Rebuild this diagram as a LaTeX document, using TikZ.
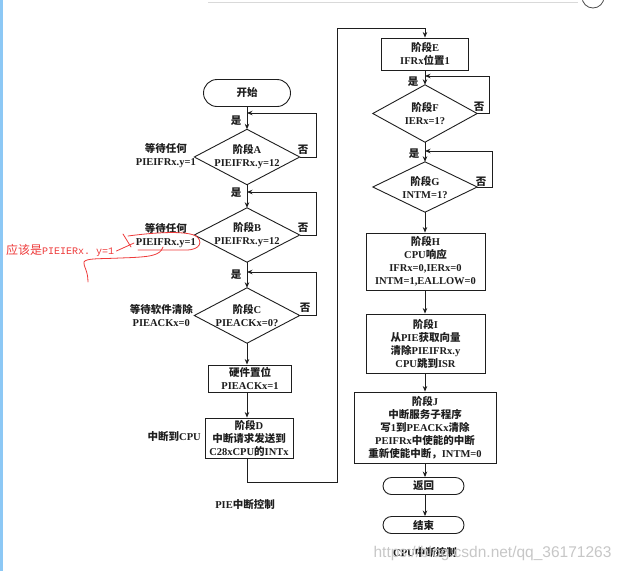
\documentclass[tikz,border=0pt]{standalone}
\usepackage{fontspec}
\setmainfont{Liberation Serif}
\setmonofont{Liberation Mono}
\setsansfont{Liberation Sans}
\newfontfamily\cjk{Noto Sans CJK SC}
\newcommand\zh[1]{{\cjk #1}}
\usetikzlibrary{arrows.meta,calc}
\definecolor{ink}{RGB}{30,30,30}
\definecolor{pen}{RGB}{238,58,58}
\definecolor{edge}{RGB}{140,200,245}
\begin{document}
\begin{tikzpicture}[x=1pt,y=-1pt,
  txt/.style={font=\fontsize{10.5}{13}\selectfont\bfseries, text=ink, align=center, inner sep=0pt},
  boxn/.style={txt, draw=ink, line width=0.9pt, rectangle},
  term/.style={boxn, rounded corners=8.5pt},
  dia/.style={txt},
  ln/.style={line width=0.9pt, draw=ink},
  arr/.style={ln, -{Stealth[length=5.5pt,width=4.5pt]}},
  redline/.style={draw=pen, line width=0.8pt, line cap=round, line join=round},
]
\useasboundingbox (0,0) rectangle (623,571);
\fill[white] (0,0) rectangle (623,571);
\fill[edge] (0,0) rectangle (2.5,571);
\draw[black!15, line width=0.6pt] (208,2) -- (578,2);
\draw[black!70, line width=0.8pt] (593,-3) circle (11);

% ---------- left column (PIE) ----------
\node[term, rounded corners=13.5pt, minimum width=87pt, minimum height=27pt] (start) at (247,93) {\zh{开始}};
\node[dia, minimum width=105pt, minimum height=55pt] (A) at (247,157) {\zh{阶段}A\\PIEIFRx.y=12};
\node[dia, minimum width=105pt, minimum height=54pt] (B) at (247,235) {\zh{阶段}B\\PIEIFRx.y=12};
\node[dia, minimum width=105pt, minimum height=55pt] (C) at (247,315.5) {\zh{阶段}C\\PIEACKx=0?};
\foreach \d in {A,B,C}{\draw[ln] (\d.north) -- (\d.east) -- (\d.south) -- (\d.west) -- cycle;}
\node[boxn, minimum width=83pt, minimum height=27pt] (hw) at (250,378.5) {\zh{硬件置位}\\PIEACKx=1};
\node[boxn, minimum width=88pt, minimum height=40pt] (D) at (249,438) {\zh{阶段}D\\\zh{中断请求发送到}\\C28xCPU\zh{的}INTx};

\node[txt, anchor=east] (la) at (196,156) {\zh{等待任何}\\PIEIFRx.y=1};
\node[txt, anchor=east] (lb) at (196,236) {\zh{等待任何}\\PIEIFRx.y=1};
\node[txt, anchor=east] (lc) at (193,315) {\zh{等待软件清除}\\PIEACKx=0};
\node[txt, anchor=east] (lcpu) at (201,437) {\zh{中断到}CPU};
\node[txt] (pie) at (245,505) {PIE\zh{中断控制}};

\coordinate (jA) at (247,113);
\coordinate (jB) at (247,192);
\coordinate (jC) at (247,272);
\coordinate (rA) at (316,113);
\coordinate (rB) at (316,192);
\coordinate (rC) at (316,272);
\draw[arr] (start.south) -- (A.north);
\draw[arr] (A.south) -- (B.north);
\draw[arr] (B.south) -- (C.north);
\draw[arr] (C.south) -- (C.south |- hw.north);
\draw[arr] (C.south |- hw.south) -- (C.south |- D.north);
\draw[arr] (A.east) -| (rA) -- (jA);
\draw[arr] (B.east) -| (rB) -- (jB);
\draw[arr] (C.east) -| (rC) -- (jC);
\node[txt] (yA) at (236,121) {\zh{是}};
\node[txt] (yB) at (236,193) {\zh{是}};
\node[txt] (yC) at (236,275) {\zh{是}};
\node[txt] (nA) at (303,150) {\zh{否}};
\node[txt] (nB) at (303,228) {\zh{否}};
\node[txt] (nC) at (305,308) {\zh{否}};

% ---------- right column (CPU) ----------
\node[boxn, minimum width=87pt, minimum height=32pt] (E) at (425,54) {\zh{阶段}E\\IFRx\zh{位置}1};
\node[dia, minimum width=104pt, minimum height=57pt] (F) at (425,113.5) {\zh{阶段}F\\IERx=1?};
\node[dia, minimum width=104pt, minimum height=50pt] (G) at (425,187) {\zh{阶段}G\\INTM=1?};
\foreach \d in {F,G}{\draw[ln] (\d.north) -- (\d.east) -- (\d.south) -- (\d.west) -- cycle;}
\node[boxn, minimum width=119pt, minimum height=57pt] (H) at (425.5,261.5) {\zh{阶段}H\\CPU\zh{响应}\\IFRx=0,IERx=0\\INTM=1,EALLOW=0};
\node[boxn, minimum width=119pt, minimum height=59pt] (I) at (425.5,343.5) {\zh{阶段}I\\\zh{从}PIE\zh{获取向量}\\\zh{清除}PIEIFRx.y\\CPU\zh{跳到}ISR};
\node[boxn, minimum width=142pt, minimum height=71pt] (J) at (425,427.5) {\zh{阶段}J\\\zh{中断服务子程序}\\\zh{写}1\zh{到}PEACKx\zh{清除}\\PEIFRx\zh{中使能的中断}\\\zh{重新使能中断，}INTM=0};
\node[term, minimum width=81pt, minimum height=17pt] (ret) at (423.5,486) {\zh{返回}};
\node[term, minimum width=81pt, minimum height=17pt] (fin) at (423.5,525) {\zh{结束}};
\node[txt] (cpu) at (425,553) {CPU\zh{中断控制}};

\coordinate (jF) at (425,76);
\coordinate (jG) at (425,151);
\coordinate (rF) at (489,76);
\coordinate (rG) at (492,151);
\coordinate (b1) at (337,482);
\coordinate (t1) at (337,28);
\draw[arr] (C.south |- D.south) |- (b1) -- (t1) -| (E.north);
\draw[arr] (E.south) -- (F.north);
\draw[arr] (F.south) -- (G.north);
\draw[arr] (G.south) -- (G.south |- H.north);
\draw[arr] (G.south |- H.south) -- (G.south |- I.north);
\draw[arr] (G.south |- I.south) -- (J.north);
\draw[arr] (J.south) -- (J.south |- ret.north);
\draw[arr] (J.south |- ret.south) -- (J.south |- fin.north);
\draw[arr] (F.east) -| (rF) -- (jF);
\draw[arr] (G.east) -| (rG) -- (jG);
\node[txt] (yF) at (413,82) {\zh{是}};
\node[txt] (yG) at (414,154) {\zh{是}};
\node[txt] (nF) at (479,107) {\zh{否}};
\node[txt] (nG) at (481,182) {\zh{否}};

% ---------- watermark ----------
\node[font=\sffamily\fontsize{15.5}{16}\selectfont, text=black!22, inner sep=0pt] (wm) at (492.5,553) {https://blog.csdn.net/qq\_36171263};

% ---------- red annotation ----------
\node[inner sep=0pt, text=pen, anchor=west] (note) at (6,250) {{\cjk\fontsize{12}{14}\selectfont 应该是}{\ttfamily\fontsize{10}{12}\selectfont PIEIERx. y=1}};
\draw[redline] (note.east) ++(2,1) -- (134,243);
\draw[redline] (123,234) -- (131,247);
\draw[redline] (128,236) .. controls (150,233) and (185,230) .. (196,236) .. controls (203,241) and (201,250) .. (186,250) -- (138,250);
\draw[redline] (163,247) .. controls (160,256) and (150,257) .. (120,258) .. controls (100,259) and (86,258) .. (84,262) .. controls (83,266) and (88,270) .. (88,282);
\end{tikzpicture}
\end{document}
